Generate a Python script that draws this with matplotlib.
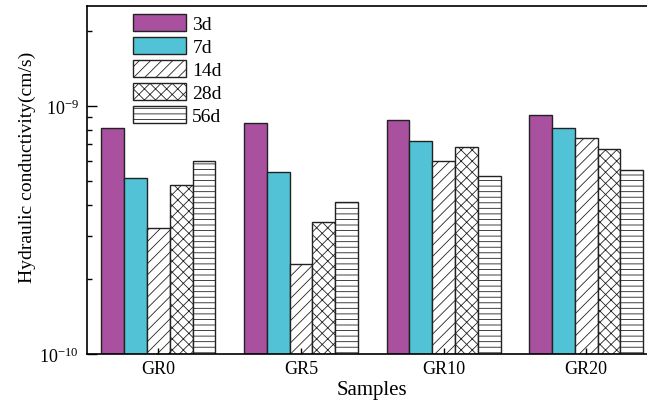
import numpy as np
import matplotlib
matplotlib.use("Agg")
import matplotlib.pyplot as plt

# Dados (condutividade hidráulica, cm/s)
samples = ["GR0", "GR5", "GR10", "GR20"]
ages = ["3d", "7d", "14d", "28d", "56d"]
k_3d = [0.813e-9, 0.854e-9, 0.881e-9, 0.921e-9]
k_7d = [0.511e-9, 0.542e-9, 0.720e-9, 0.813e-9]
k_14d = [0.321e-9, 0.231e-9, 0.602e-9, 0.742e-9]
k_28d = [0.480e-9, 0.340e-9, 0.681e-9, 0.670e-9]
k_56d = [0.602e-9, 0.411e-9, 0.520e-9, 0.550e-9]

plt.rcParams['font.family'] = ['Liberation Serif', 'DejaVu Serif']
plt.rcParams['mathtext.fontset'] = 'stix'
plt.rcParams['hatch.linewidth'] = 0.6

series = [k_3d, k_7d, k_14d, k_28d, k_56d]
cores = ['#A9519F', '#52C3D6', 'white', 'white', 'white']
hatches = [None, None, '///', 'xxx', '---']

fig = plt.figure(figsize=(6.47, 4.06), dpi=100)
ax = fig.add_axes([87/647, 1 - 355/406, 570.5/647, 348/406])
ax.set_yscale('log')

x = np.arange(len(samples))
w = 0.16
base = 1e-10
for i, (vals, c, h, lab) in enumerate(zip(series, cores, hatches, ages)):
    v = np.array(vals)
    ax.bar(x + (i - 2) * w, v - base, bottom=base, width=w, color=c,
           edgecolor='#222222', linewidth=1.0, hatch=h, label=lab)

ax.set_xlim(-0.5, 3.5)
ax.set_ylim(1e-10, 2.53e-9)
ax.set_xticks(x)
ax.set_xticklabels(samples, fontsize=13)
ax.tick_params(axis='x', direction='in', length=4, width=1, pad=4)
ax.tick_params(axis='y', which='major', direction='in', length=7, width=1,
               pad=6, labelsize=13)
ax.tick_params(axis='y', which='minor', direction='in', length=3.6, width=1)
for s in ax.spines.values():
    s.set_linewidth(1.2)

ax.set_xlabel("Samples", fontsize=15)
ax.xaxis.set_label_coords(0.5, -0.075)
ax.set_ylabel("Hydraulic conductivity(cm/s)", fontsize=14)
ax.yaxis.set_label_coords(-0.089, 0.54)

ax.legend(loc='upper left', bbox_to_anchor=(133/647, 1 - 15/406),
          bbox_transform=fig.transFigure, frameon=False, fontsize=14,
          handlelength=2.7, handleheight=0.95, labelspacing=0.2,
          handletextpad=0.35, borderpad=0, borderaxespad=0)

fig.savefig("out.png", dpi=100)
